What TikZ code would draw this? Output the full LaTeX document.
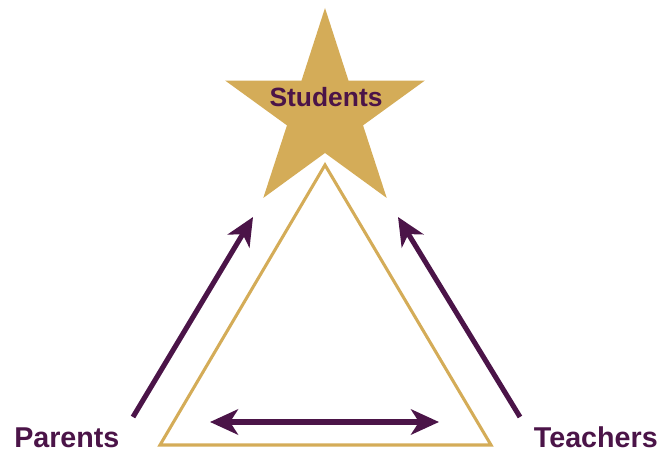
\documentclass[tikz,border=0pt]{standalone}
\usepackage{fontspec}
\setmainfont{Liberation Sans}
\usepackage{tikz}
\usetikzlibrary{arrows.meta,positioning}

\definecolor{plum}{RGB}{75,20,72}
\definecolor{gold}{RGB}{212,172,88}

\tikzset{
  label text/.style={text=plum,font=\bfseries\fontsize{21.5}{25}\selectfont,inner sep=0pt},
  link/.style={draw=plum,line width=3.8pt,-{Stealth[length=21pt,width=19pt,inset=6pt]}},
  both links/.style={draw=plum,line width=3.8pt,{Stealth[length=21pt,width=19pt,inset=6pt]}-{Stealth[length=21pt,width=19pt,inset=6pt]}},
}

\begin{document}
\begin{tikzpicture}[x=0.75pt,y=0.75pt,yscale=-1,xscale=1]
\useasboundingbox (0,0) rectangle (663,452);

%Shape: Star
\fill[gold, shift={(325,113)}] (270:105) -- (306:40) -- (342:105) -- (18:40) -- (54:105) -- (90:40) -- (126:105) -- (162:40) -- (198:105) -- (234:40) -- cycle;

%Shape: Triangle
\draw[gold, line width=2.3pt, line join=miter] (325,165) -- (491,445) -- (160,445) -- cycle;

% Text Node
\node[label text, font=\bfseries\fontsize{19.8}{23}\selectfont, anchor=base] (students) at (326,107) {Students};
% Text Node
\node[label text, anchor=base west] (parents) at (14,447) {Parents};
% Text Node
\node[label text, anchor=base east] (teachers) at (658,447) {Teachers};

\coordinate (parents-out) at (133,417);
\coordinate (parents-in) at (253,217);
\coordinate (teachers-out) at (520,417);
\coordinate (teachers-in) at (398,217);
\coordinate (home) at (210,422);
\coordinate (school) at (439,422);

%Straight Lines
\draw[link] (parents-out) -- (parents-in);
\draw[link] (teachers-out) -- (teachers-in);
\draw[both links] (home) -- (school);

\end{tikzpicture}
\end{document}
